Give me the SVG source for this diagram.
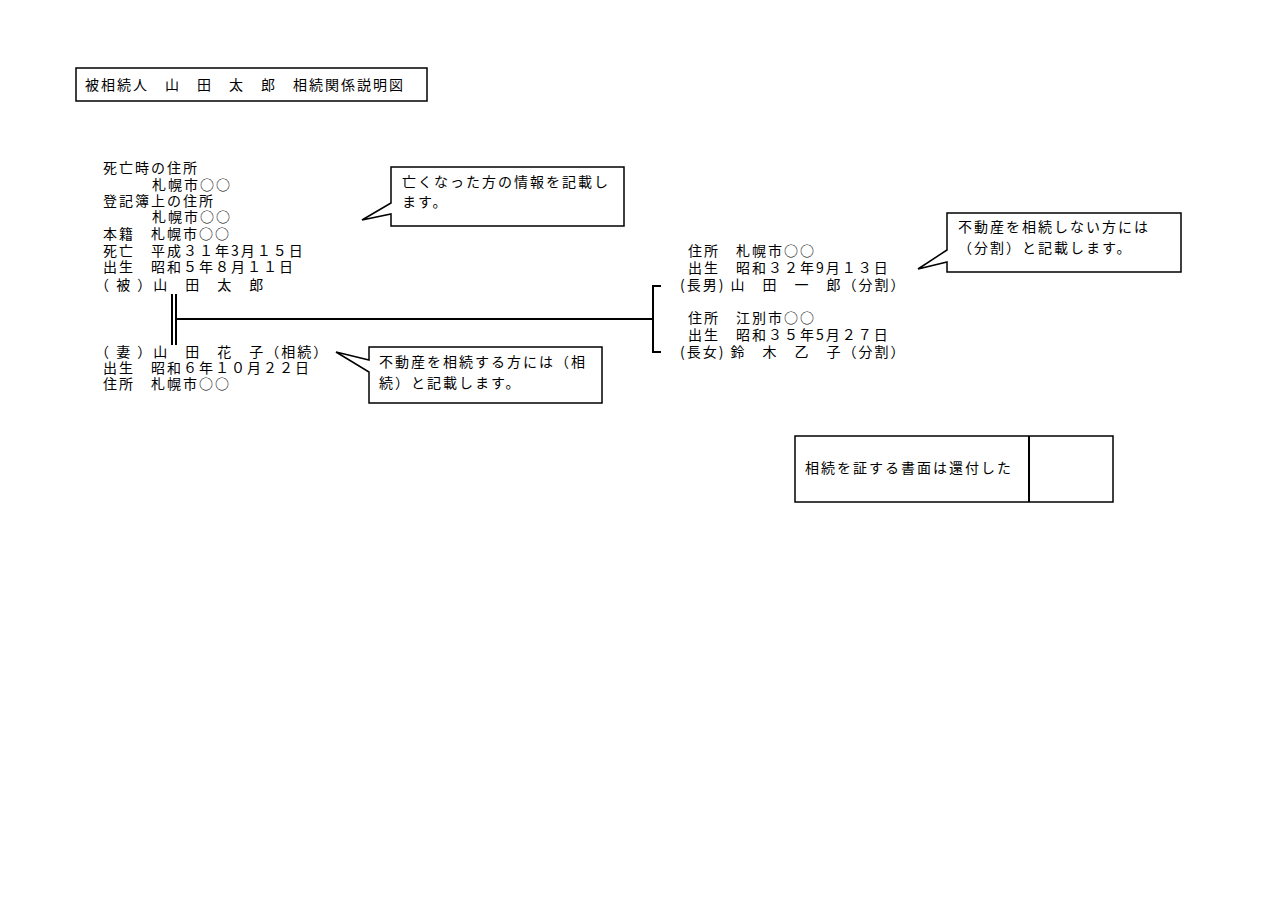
<svg xmlns="http://www.w3.org/2000/svg" width="1280" height="905" viewBox="0 0 1280 905">
<style>
text{font-family:"Noto Sans CJK JP","Liberation Serif",serif;font-size:14px;letter-spacing:2px;fill:#000}
.b{fill:#fff;stroke:#000;stroke-width:1.5}
.l{stroke:#000;stroke-width:2;fill:none}
</style>
<rect width="1280" height="905" fill="#fff"/>
<g id="title"><rect class="b" x="76" y="68" width="351" height="33"/><text x="85" y="90">被相続人　山　田　太　郎　相続関係説明図</text></g>
<g id="deceased">
<text x="103" y="173">死亡時の住所</text>
<text x="152" y="190">札幌市○○</text>
<text x="103" y="206">登記簿上の住所</text>
<text x="152" y="222">札幌市○○</text>
<text x="103" y="239">本籍　札幌市○○</text>
<text x="103" y="256">死亡　平成３１年3月１５日</text>
<text x="103" y="272">出生　昭和５年８月１１日</text>
<text x="95" y="290">（ 被 ）山　田　太　郎</text>
</g>
<g id="wife">
<text x="95" y="357">（ 妻 ）山　田　花　子（相続）</text>
<text x="103" y="373">出生　昭和６年１０月２２日</text>
<text x="103" y="389">住所　札幌市○○</text>
</g>
<g id="son">
<text x="688" y="256">住所　札幌市○○</text>
<text x="688" y="273">出生　昭和３２年9月１３日</text>
<text x="680" y="290">(長男) 山　田　一　郎（分割）</text>
</g>
<g id="daughter">
<text x="688" y="323">住所　江別市○○</text>
<text x="688" y="340">出生　昭和３５年5月２７日</text>
<text x="680" y="357">(長女) 鈴　木　乙　子（分割）</text>
</g>
<g id="connectors">
<line class="l" x1="172" y1="294" x2="172" y2="345" stroke-width="1.5"/>
<line class="l" x1="176" y1="294" x2="176" y2="345" stroke-width="1.5"/>
<line class="l" x1="176" y1="319" x2="653" y2="319"/>
<polyline class="l" points="661,286 653,286 653,352 661,352"/>
</g>
<g id="note1"><path class="b" d="M391,167H624V226H391V214L362,220L391,203Z"/><text x="402" y="187">亡くなった方の情報を記載し</text><text x="402" y="207">ます。</text></g>
<g id="note2"><path class="b" d="M369,347H602V403H369V372L336,352L369,360Z"/><text x="379" y="367">不動産を相続する方には（相</text><text x="379" y="388">続）と記載します。</text></g>
<g id="note3"><path class="b" d="M947,213H1181V272H947V262L918,269L947,250Z"/><text x="958" y="232">不動産を相続しない方には</text><text x="958" y="253">（分割）と記載します。</text></g>
<g id="stamp"><rect class="b" x="795" y="436" width="318" height="66"/><line class="l" x1="1029" y1="436" x2="1029" y2="502" stroke-width="1.5"/><text x="805" y="473">相続を証する書面は還付した</text></g>
</svg>
